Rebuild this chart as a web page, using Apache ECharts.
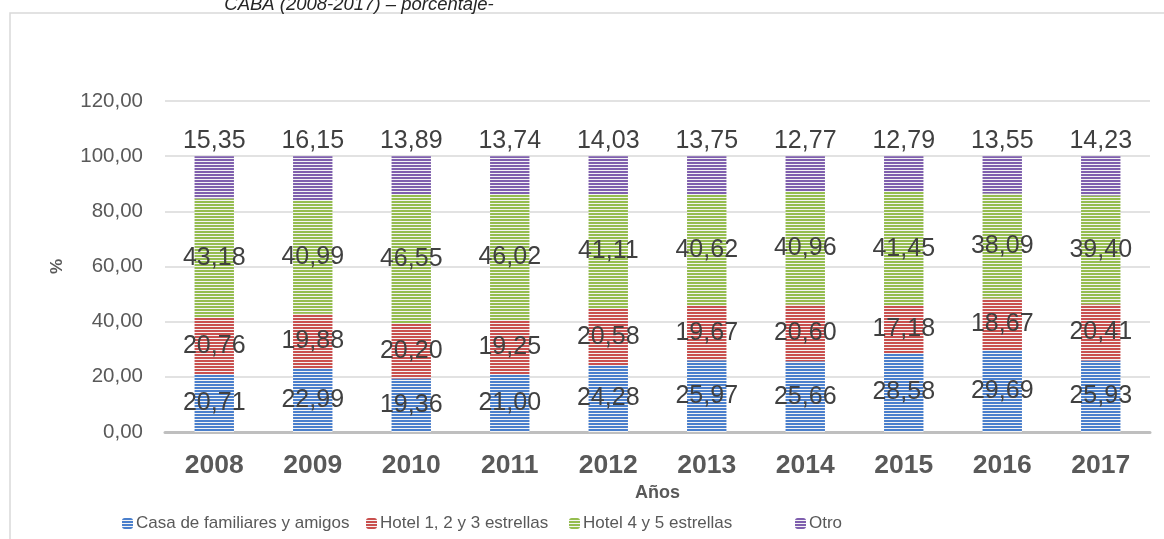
<!DOCTYPE html>
<html>
<head>
<meta charset="utf-8">
<script src="https://cdn.jsdelivr.net/npm/echarts@6/dist/echarts.min.js"></script>
<style>
  html, body { margin: 0; padding: 0; background: #fff; }
  #main { width: 1164px; height: 539px; }
</style>
</head>
<body>
<div id="main"></div>
<script>
// data
var years = ['2008', '2009', '2010', '2011', '2012', '2013', '2014', '2015', '2016', '2017'];
var casa = [20.71, 22.99, 19.36, 21.00, 24.28, 25.97, 25.66, 28.58, 29.69, 25.93];
var hotel123 = [20.76, 19.88, 20.20, 19.25, 20.58, 19.67, 20.60, 17.18, 18.67, 20.41];
var hotel45 = [43.18, 40.99, 46.55, 46.02, 41.11, 40.62, 40.96, 41.45, 38.09, 39.40];
var otro = [15.35, 16.15, 13.89, 13.74, 14.03, 13.75, 12.77, 12.79, 13.55, 14.23];
var seriesNames = ['Casa de familiares y amigos', 'Hotel 1, 2 y 3 estrellas', 'Hotel 4 y 5 estrellas', 'Otro'];

var FONT = 'Liberation Sans, Arial, sans-serif';

// striped fill like the excel pattern
function stripes(color) {
  var c = document.createElement('canvas');
  c.width = 4;
  c.height = 3;
  var ctx = c.getContext('2d');
  ctx.fillStyle = color;
  ctx.fillRect(0, 0, 4, 2);
  ctx.fillStyle = '#f4f4f4';
  ctx.fillRect(0, 2, 4, 1);
  return { image: c, repeat: 'repeat' };
}

var fmt = function (p) {
  return p.value.toFixed(2).replace('.', ',');
};

function makeSeries(name, data, color, pos) {
  return {
    name: name,
    type: 'bar',
    stack: 'total',
    barWidth: '40%',
    data: data,
    itemStyle: { color: stripes(color) },
    label: {
      show: true,
      position: pos,
      formatter: fmt,
      fontFamily: FONT,
      fontSize: 25,
      color: '#404040',
      distance: 3
    }
  };
}

// one legend per entry so each can sit where the original has it
function legendAt(name, x) {
  return {
    left: x,
    top: 515,
    padding: 0,
    itemWidth: 11,
    itemHeight: 11,
    textStyle: { fontFamily: FONT, fontSize: 17, color: '#595959', padding: [0, 0, 0, -2] },
    data: [name]
  };
}

var chart = echarts.init(document.getElementById('main'));
var option = {
  animation: false,
  grid: { left: 165, right: 14, top: 101, bottom: 107 },
  graphic: [
    {
      type: 'rect',
      shape: { x: 10, y: 13, width: 1170, height: 540 },
      style: { fill: 'none', stroke: '#d9d9d9', lineWidth: 1.5 },
      silent: true
    },
    {
      type: 'text',
      style: {
        x: 359, y: 14,
        text: 'CABA (2008-2017) – porcentaje-',
        textAlign: 'center',
        textVerticalAlign: 'bottom',
        font: 'italic 18.5px Liberation Sans, Arial, sans-serif',
        fill: '#262626'
      }
    }
  ],
  legend: [
    legendAt(seriesNames[0], 122),
    legendAt(seriesNames[1], 366),
    legendAt(seriesNames[2], 569),
    legendAt(seriesNames[3], 795)
  ],
  xAxis: {
    type: 'category',
    data: years,
    name: 'Años',
    nameLocation: 'middle',
    nameGap: 52,
    nameTextStyle: { fontFamily: FONT, fontSize: 18, fontWeight: 'bold', color: '#595959' },
    axisLine: { lineStyle: { color: '#bfbfbf', width: 3 } },
    axisTick: { show: false },
    axisLabel: { fontFamily: FONT, fontSize: 26.5, fontWeight: 'bold', color: '#595959', margin: 20 }
  },
  yAxis: {
    type: 'value',
    min: 0,
    max: 120,
    interval: 20,
    name: '%',
    nameLocation: 'middle',
    nameRotate: 90,
    nameGap: 99,
    nameTextStyle: { fontFamily: FONT, fontSize: 17, fontWeight: 'bold', color: '#595959' },
    axisLabel: {
      fontFamily: FONT, fontSize: 20.5, color: '#595959', margin: 22,
      formatter: function (v) { return v.toFixed(2).replace('.', ','); }
    },
    splitLine: { lineStyle: { color: '#d9d9d9', width: 1.5 } }
  },
  series: [
    makeSeries(seriesNames[0], casa, '#4a7fcc', 'inside'),
    makeSeries(seriesNames[1], hotel123, '#c9504e', 'inside'),
    makeSeries(seriesNames[2], hotel45, '#95bd4f', 'inside'),
    makeSeries(seriesNames[3], otro, '#7f5fae', 'top')
  ]
};
chart.setOption(option);
</script>
</body>
</html>
